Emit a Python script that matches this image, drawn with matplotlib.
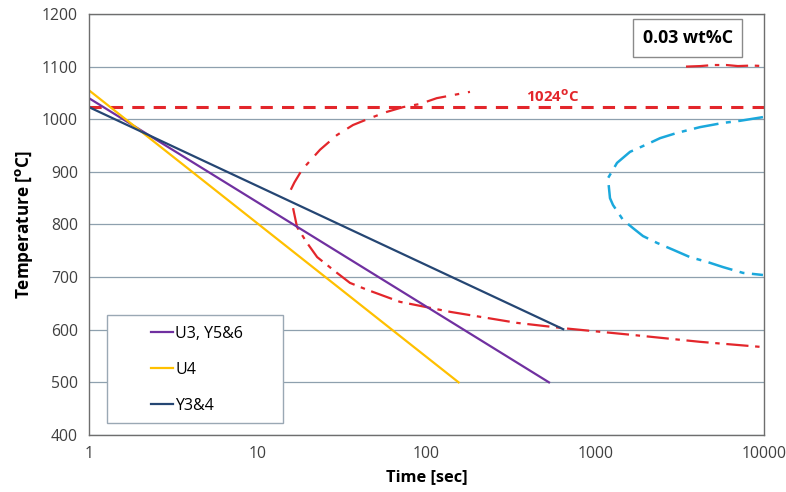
import matplotlib
matplotlib.use("Agg")
import matplotlib.pyplot as plt
from matplotlib.patches import Rectangle

# ---- data ----
# cooling paths (time [s], temperature [C])
u3_t = [1, 532]
u3_T = [1040, 500]
u4_t = [1, 155]
u4_T = [1055, 500]
y34_t = [1, 646]
y34_T = [1023, 601]

# red transformation curve, upper branch
red_up_t = [15.7, 16.5, 18.3, 23.4, 29.5, 36.7, 46.2, 58.3, 72.6, 91.5, 115, 181]
red_up_T = [866, 880, 904, 942, 970, 989, 1002, 1014, 1023, 1029, 1040, 1052]
# red transformation curve, lower branch
red_lo_t = [16.2, 17.1, 19.6, 22.5, 29.5, 35.2, 44.4, 69.6, 138, 344, 644, 1675, 4180, 9860]
red_lo_T = [831, 795, 765, 738, 708, 689, 676, 653, 634, 613, 603, 590, 577, 567]
# red short segment near 1100 C
red_top_t = [3450, 4200, 5000, 6000, 7000, 8500, 10000]
red_top_T = [1100, 1101, 1103, 1103, 1101, 1102, 1101]

# cyan curve
cyan_t = [9860, 7210, 5720, 4180, 3050, 2420, 2110, 1607, 1346, 1190, 1223, 1274,
          1459, 1675, 1918, 2323, 2890, 3640, 4590, 5720, 7510, 9860]
cyan_T = [1004, 997, 993, 985, 974, 964, 955, 938, 917, 888, 850, 837,
          809, 793, 778, 765, 752, 738, 729, 719, 708, 704]

a1_T = 1024
x_ticks = [1, 10, 100, 1000, 10000]
y_ticks = [400, 500, 600, 700, 800, 900, 1000, 1100, 1200]

# ---- plot ----
plt.rcParams['font.family'] = ['Open Sans', 'DejaVu Sans']
fig = plt.figure(figsize=(7.86, 4.92), dpi=100)
ax = fig.add_axes([0.1132, 0.1159, 0.8588, 0.8557])

red = '#E3262B'
cyan = '#1BA8DC'

ax.plot(red_up_t, red_up_T, color=red, lw=1.6, dashes=(9, 4, 2, 4))
ax.plot(red_lo_t, red_lo_T, color=red, lw=1.6, dashes=(10, 3, 2, 3))
ax.plot(red_top_t, red_top_T, color=red, lw=1.6, dashes=(10, 3, 2, 3))
ax.plot(cyan_t, cyan_T, color=cyan, lw=1.8, dashes=(10, 3, 2, 3))
ax.axhline(a1_T, color=red, lw=2.2, dashes=(4, 3))

ax.plot(u3_t, u3_T, color='#7030A0', lw=1.6, label='U3, Y5&6')
ax.plot(u4_t, u4_T, color='#FFC000', lw=1.6, label='U4')
ax.plot(y34_t, y34_T, color='#254673', lw=1.6, label='Y3&4')

ax.set_xscale('log')
ax.set_xlim(1, 10000)
ax.set_ylim(400, 1200)
ax.set_xticks(x_ticks)
ax.set_xticklabels([str(v) for v in x_ticks])
ax.minorticks_off()
ax.set_yticks(y_ticks)
ax.tick_params(length=0, labelsize=11.3, labelcolor='#404040', pad=8)
ax.yaxis.grid(True, color='#8EA0AE', lw=0.9)
ax.set_axisbelow(True)
for s in ax.spines.values():
    s.set_color('#6E6E6E')
    s.set_linewidth(1.0)

ax.set_xlabel('Time [sec]', fontsize=11.8, fontweight='bold', labelpad=5)
ax.set_ylabel(r'Temperature [$^{\mathbf{o}}$C]', fontsize=12.3, fontweight='bold', labelpad=5)

ax.text(555, 1043, r'1024$^{\mathbf{o}}$C', color=red, fontsize=10.8, fontweight='bold',
        ha='center', va='center')

ax.text(0.887, 0.943, '0.03 wt%C', transform=ax.transAxes, fontsize=12.8, fontweight='bold',
        ha='center', va='center',
        bbox=dict(boxstyle='square,pad=0.55', fc='white', ec='#8A8A8A', lw=1.0))

# legend frame
ax.add_patch(Rectangle((0.0267, 0.0285), 0.2607, 0.2565, transform=ax.transAxes,
                       facecolor='white', edgecolor='#9AA8B4', lw=1.0, zorder=3))
leg = ax.legend(loc='upper left', bbox_to_anchor=(0.082, 0.275), frameon=False,
                fontsize=11.5, handlelength=1.4, handletextpad=0.15, labelspacing=1.25,
                borderaxespad=0)
leg.set_zorder(4)

fig.savefig('out.png', dpi=100)
